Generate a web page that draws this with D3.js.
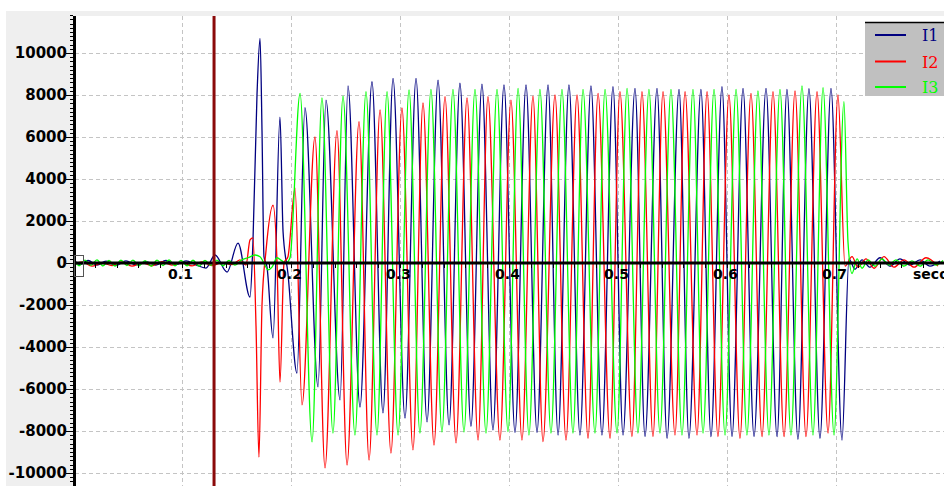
<!DOCTYPE html>
<html>
<head>
<meta charset="utf-8">
<script src="https://cdn.jsdelivr.net/npm/d3@7"></script>
<style>
body{margin:0;background:#fff;overflow:hidden;}
svg text{font-family:"DejaVu Sans",sans-serif;}
</style>
</head>
<body>
<div id="chart"></div>
<script>
// series names + labels
var seriesNames = ["I1", "I2", "I3"];
var xTicks = [0.1, 0.2, 0.3, 0.4, 0.5, 0.6, 0.7];
var yTicks = [-10000, -8000, -6000, -4000, -2000, 0, 2000, 4000, 6000, 8000, 10000];
var xTitle = "seconds";
var cursorTime = 0.1294;

// I1 extrema (seconds, amps)
var i1Time = [0.0009,0.0064,0.0138,0.0220,0.0303,0.0394,0.0486,0.0578,0.0670,0.0761,0.0853,0.0945,0.1037,0.1128,0.1220,
  0.1303,0.1413,0.1514,0.1624,0.1651,0.1688,0.1716,0.1734,0.1752,0.1780,
  0.1835,0.1899,0.1927,0.1972,0.2055,0.2128,
  0.2248,0.2321,0.2450,0.2523,0.2633,0.2743,0.2844,0.2936,0.3046,0.3147,
  0.3248,0.3349,0.3450,0.3550,0.3651,0.3752,0.3853,0.3954,0.4055,0.4156,
  0.4257,0.4358,0.4450,0.4550,0.4651,0.4752,0.4853,0.4954,0.5046,0.5156,
  0.5248,0.5358,0.5450,0.5560,0.5651,0.5761,0.5853,0.5954,0.6046,0.6147,
  0.6248,0.6358,0.6459,0.6550,0.6651,0.6752,0.6853,0.6954,0.7055,
  0.7119,0.7174,0.7239,0.7312,0.7404,0.7495,0.7587,0.7679,0.7771,0.7862,0.7954];
var i1Amp = [150,-80,120,-100,90,-120,100,-90,60,-100,120,-80,100,-90,-240,
  380,-430,950,-1620,1000,8000,10700,6300,300,-200,
  -3570,6950,1500,-500,-5240,7400,
  -5900,7760,-6520,8430,-6860,8630,-7140,8790,-7380,8790,
  -7570,8710,-7710,8560,-7780,8520,-7950,8480,-8080,8480,
  -8080,8480,-8190,8480,-8190,8430,-8190,8400,-8190,8320,
  -8270,8320,-8350,8270,-8350,8270,-8270,8400,-8270,8320,
  -8270,8320,-8270,8270,-8400,8300,-8350,8320,-8430,
  200,-300,150,-200,250,-150,200,-100,150,-150,100];

// I2 extrema
var i2Time = [0.0009,0.0083,0.0174,0.0266,0.0358,0.0450,0.0541,0.0633,0.0725,0.0817,0.0908,0.1000,0.1092,0.1183,0.1275,0.1367,0.1459,
  0.1532,0.1587,0.1624,0.1651,0.1679,0.1706,0.1734,0.1771,
  0.1835,0.1872,0.1899,0.1936,0.1972,0.2037,0.2101,
  0.2220,0.2312,0.2422,0.2514,0.2624,0.2716,0.2817,0.2917,0.3018,0.3119,
  0.3211,0.3312,0.3413,0.3514,0.3615,0.3716,0.3807,0.3917,0.4018,0.4119,
  0.4220,0.4312,0.4422,0.4523,0.4624,0.4725,0.4817,0.4927,0.5018,0.5128,
  0.5220,0.5321,0.5413,0.5523,0.5615,0.5725,0.5817,0.5917,0.6018,0.6119,
  0.6220,0.6321,0.6422,0.6523,0.6624,0.6725,0.6826,0.6927,0.7018,
  0.7083,0.7147,0.7202,0.7275,0.7349,0.7440,0.7532,0.7624,0.7716,0.7826,0.7936];
var i2Amp = [-100,50,-150,0,-120,50,-150,20,-130,60,-100,30,-140,50,-120,20,-80,
  150,-100,1100,1200,-3000,-9240,-2000,600,
  2750,0,-5670,0,300,3570,-6760,
  6000,-9760,6300,-9620,6730,-9380,7290,-9050,7380,-8900,
  7620,-8670,7920,-8570,7860,-8430,7920,-8430,7760,-8430,
  7940,-8510,8000,-8430,8000,-8350,8080,-8350,8160,-8270,
  8160,-8270,8160,-8190,8160,-8190,8160,-8270,8000,-8350,
  8080,-8270,8160,-8270,8200,-8270,8160,-8100,8000,
  -150,300,-200,200,-250,300,-200,150,-200,250,-150];

// I3 extrema
var i3Time = [0.0009,0.0055,0.0110,0.0165,0.0220,0.0275,0.0330,0.0385,0.0440,0.0495,0.0550,0.0606,0.0661,0.0716,
  0.0771,0.0826,0.0881,0.0936,0.0991,0.1046,0.1101,0.1156,0.1211,0.1266,0.1321,0.1376,0.1431,0.1486,
  0.1550,0.1606,0.1670,0.1716,0.1761,0.1789,0.1826,0.1872,0.1917,0.1954,0.1991,
  0.2083,0.2193,0.2284,0.2385,0.2477,0.2587,0.2688,0.2789,0.2881,0.2982,
  0.3083,0.3183,0.3284,0.3385,0.3486,0.3587,0.3688,0.3789,0.3890,0.3991,
  0.4083,0.4183,0.4284,0.4385,0.4486,0.4587,0.4679,0.4789,0.4881,0.4991,
  0.5083,0.5183,0.5284,0.5385,0.5486,0.5587,0.5688,0.5780,0.5881,0.5982,
  0.6083,0.6183,0.6284,0.6385,0.6486,0.6587,0.6688,0.6789,0.6881,0.6982,
  0.7073,
  0.7110,0.7147,0.7193,0.7239,0.7294,0.7358,0.7422,0.7486,0.7550,0.7624,0.7697,0.7771,0.7844,0.7917,0.7982];
var i3Amp = [120,-130,140,-110,150,-140,120,-150,130,-120,140,-130,110,-150,
  140,-120,150,-130,120,-140,130,-150,120,-110,140,-130,120,-100,
  150,250,380,300,-100,-330,-200,250,100,0,250,
  8080,-8520,7860,-8100,7940,-8190,8160,-8190,8160,-8190,
  8240,-8100,8270,-8050,8270,-8050,8270,-8100,8270,-8030,
  8320,-8190,8270,-8100,8270,-8100,8270,-8100,8270,-8100,
  8320,-8100,8270,-8100,8270,-8190,8270,-8100,8270,-8190,
  8270,-8190,8200,-8190,8270,-8190,8430,-8190,8350,-8190,
  7680,
  1000,-500,200,-250,150,-150,200,-100,150,-150,100,-150,150,-100,120];

var colors = {I1: "#000080", I2: "#ff0000", I3: "#00ff00"};

var W = 944, H = 486;
var plot = {l: 75, t: 16, r: 944, b: 486};

var svg = d3.select("#chart")
  .append("svg")
  .attr("width", W)
  .attr("height", H);

var scaleX = d3.scaleLinear().domain([0, 0.8]).range([73, 945]);
var scaleY = d3.scaleLinear().domain([-10000, 10000]).range([473, 53]);

// gray frame (left panel + top strip)
svg.append("rect").attr("x", 6).attr("y", 11).attr("width", W - 6).attr("height", 5).attr("fill", "#efefef");
svg.append("rect").attr("x", 6).attr("y", 11).attr("width", 67).attr("height", H - 11).attr("fill", "#efefef");

// grid
var grid = svg.append("g").attr("stroke", "#c4c4c4").attr("stroke-dasharray", "4,3").attr("stroke-width", 1);
grid.selectAll(".vg").data(xTicks).enter().append("line")
  .attr("x1", function(d){ return Math.round(scaleX(d)) + 0.5; })
  .attr("x2", function(d){ return Math.round(scaleX(d)) + 0.5; })
  .attr("y1", plot.t).attr("y2", plot.b);
grid.selectAll(".hg").data(yTicks.filter(function(d){ return d != 0; })).enter().append("line")
  .attr("y1", function(d){ return Math.round(scaleY(d)) + 0.5; })
  .attr("y2", function(d){ return Math.round(scaleY(d)) + 0.5; })
  .attr("x1", plot.l).attr("x2", plot.r);

// traces
svg.append("clipPath").attr("id", "clip").append("rect")
  .attr("x", plot.l).attr("y", plot.t).attr("width", plot.r - plot.l).attr("height", plot.b - plot.t);

var series = [
  {name: "I1", pts: d3.zip(i1Time, i1Amp)},
  {name: "I2", pts: d3.zip(i2Time, i2Amp)},
  {name: "I3", pts: d3.zip(i3Time, i3Amp)}
];

var line = d3.line()
  .x(function(d){ return scaleX(d[0]); })
  .y(function(d){ return scaleY(d[1]); })
  .curve(d3.curveMonotoneX);

svg.append("g").attr("clip-path", "url(#clip)")
  .selectAll(".trace").data(series).enter().append("path")
  .attr("class", "trace")
  .attr("fill", "none")
  .attr("stroke", function(d){ return colors[d.name]; })
  .attr("stroke-width", 1.3)
  .attr("d", function(d){ return line(d.pts); });

// x axis line + minor ticks
svg.append("line").attr("x1", 73).attr("x2", W).attr("y1", scaleY(0)).attr("y2", scaleY(0))
  .attr("stroke", "#000").attr("stroke-width", 3);
svg.append("g").selectAll("line").data(d3.range(0.02, 0.81, 0.02)).enter().append("line")
  .attr("x1", function(d){ return Math.round(scaleX(d)) + 0.5; })
  .attr("x2", function(d){ return Math.round(scaleX(d)) + 0.5; })
  .attr("y1", scaleY(0)).attr("y2", scaleY(0) + 5)
  .attr("stroke", "#000").attr("stroke-width", 1);
svg.append("g").selectAll("text").data(xTicks).enter().append("text")
  .attr("x", function(d){ return scaleX(d) - 1.5; })
  .attr("y", 279)
  .attr("text-anchor", "middle")
  .attr("font-size", "14px").attr("font-weight", "bold")
  .text(function(d){ return d3.format(".1f")(d); });
svg.append("text").attr("x", 913).attr("y", 279)
  .attr("font-size", "14px").attr("font-weight", "bold").text(xTitle);

// y axis
svg.append("line").attr("x1", 74.5).attr("x2", 74.5).attr("y1", plot.t).attr("y2", H)
  .attr("stroke", "#000").attr("stroke-width", 3);
svg.append("g").selectAll("line").data(d3.range(-10600, 11801, 200)).enter().append("line")
  .attr("y1", function(d){ return Math.round(scaleY(d)) + 0.5; })
  .attr("y2", function(d){ return Math.round(scaleY(d)) + 0.5; })
  .attr("x1", function(d){ return d % 2000 == 0 ? 66 : 70; })
  .attr("x2", 73)
  .attr("stroke", "#000").attr("stroke-width", 1);
svg.append("g").selectAll("text").data(yTicks).enter().append("text")
  .attr("x", 67)
  .attr("y", function(d){ return scaleY(d) + 5; })
  .attr("text-anchor", "end")
  .attr("font-size", "15px").attr("font-weight", "bold")
  .text(function(d){ return d; });

// cursor + origin marker
svg.append("line").attr("x1", scaleX(cursorTime)).attr("x2", scaleX(cursorTime))
  .attr("y1", plot.t).attr("y2", H)
  .attr("stroke", "#8b0a0a").attr("stroke-width", 3);
svg.append("rect").attr("x", 74.5).attr("y", 255.5).attr("width", 9).attr("height", 21)
  .attr("fill", "none").attr("stroke", "#555").attr("stroke-width", 1);

// legend
var leg = svg.append("g").attr("transform", "translate(865,22)");
leg.append("rect").attr("width", 80).attr("height", 74).attr("fill", "#c0c0c0");
leg.append("line").attr("x1", 0).attr("x2", 80).attr("y1", 0.5).attr("y2", 0.5).attr("stroke", "#000").attr("stroke-width", 1.5);
var rows = leg.selectAll(".row").data(seriesNames).enter().append("g")
  .attr("transform", function(d, i){ return "translate(0," + [13, 39.5, 65][i] + ")"; });
rows.append("line").attr("x1", 10).attr("x2", 41).attr("stroke-width", 2)
  .attr("stroke", function(d){ return colors[d]; });
rows.append("text").attr("x", 57).attr("y", 6)
  .style("font-family", "'DejaVu Serif', serif").attr("font-size", "16px")
  .attr("fill", function(d){ return colors[d]; })
  .text(function(d){ return d; });
</script>
</body>
</html>
